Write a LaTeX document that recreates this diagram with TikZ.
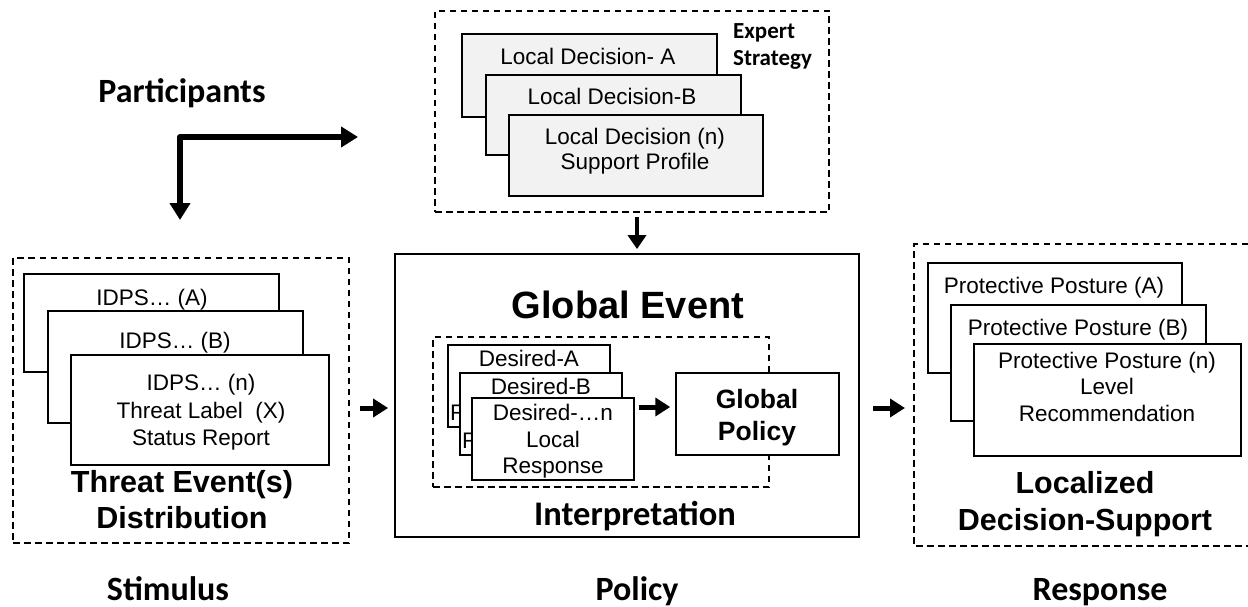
\documentclass[tikz,border=0pt]{standalone}
\usepackage{fontspec}
\setmainfont{Liberation Sans}
\newfontfamily\carl{Carlito}
\usetikzlibrary{arrows.meta}
\definecolor{boxgray}{RGB}{242,242,242}
\begin{document}
\begin{tikzpicture}[x=1pt,y=-1pt,
  box/.style={draw, line width=1.5pt, fill=white, inner sep=0pt},
  gbox/.style={box, fill=boxgray},
  dpat/.style={line width=1.3pt, dash pattern=on 6.5pt off 4.5pt},
  dbox/.style={draw, dpat, inner sep=0pt},
  txt/.style={inner sep=0pt, align=center, font=\fontsize{22.5}{26.5}\selectfont},
  big/.style={inner sep=0pt, align=center, font=\fontsize{30.5}{36}\selectfont\bfseries},
  lab/.style={inner sep=0pt, align=center, font=\carl\fontsize{34}{40}\selectfont\bfseries},
  arr/.style={line width=5pt, -{Triangle[length=15pt,width=18pt]}},
]
\useasboundingbox (0,0) rectangle (1248,607);

% ---------- Participants ----------
\node[lab, anchor=base] (part) at (182,103) {Participants};
\coordinate (pdown) at (180,220);
\coordinate (pright) at (358,137);
\draw[line width=6pt, line join=round, {Triangle[length=17pt,width=20pt]}-{Triangle[length=17pt,width=20pt]}] (pdown) |- (pright);

% ---------- Expert strategy ----------
\node[dbox, minimum width=394pt, minimum height=201pt] (topdash) at (632,111.5) {};
\node[gbox, minimum width=255pt, minimum height=83pt] (ldA) at (589.5,75.5) {};
\node[txt, anchor=base] (ldAt) at (588,65) {Local Decision- A};
\node[gbox, minimum width=255pt, minimum height=80pt] (ldB) at (613.5,115) {};
\node[txt, anchor=base] (ldBt) at (612,105) {Local Decision-B};
\node[gbox, minimum width=254pt, minimum height=81pt] (ldN) at (636,155.5) {};
\node[txt, font=\fontsize{22.5}{25}\selectfont] (ldNt) at (635,151.5) {Local Decision (n)\\Support Profile};
\node[inner sep=0pt, align=left, anchor=west, font=\carl\fontsize{23}{27}\selectfont\bfseries] (expert) at (733,46.5) {Expert\\Strategy};

% ---------- Global event ----------
\node[box, line width=1.8pt, minimum width=464pt, minimum height=283pt] (geb) at (627,395.5) {};
\node[inner sep=0pt, anchor=base, font=\fontsize{38}{44}\selectfont\bfseries] (get) at (628,318) {Global Event};
\node[dbox, minimum width=336pt, minimum height=150pt] (idash) at (601,412) {};
\node[box, minimum width=162pt, minimum height=82pt] (dsA) at (529,386) {};
\node[txt, anchor=base] (dsAt) at (529,366) {Desired-A};
\node[txt, anchor=west] (rA) at (450,413) {R};
\node[box, minimum width=162pt, minimum height=82pt] (dsB) at (541,414) {};
\node[txt, anchor=base] (dsBt) at (541,394) {Desired-B};
\node[txt, anchor=west] (rB) at (462,441) {R};
\node[box, minimum width=162pt, minimum height=82pt] (dsN) at (553,439) {};
\node[txt] (dsNt) at (553,441.5) {Desired-\dots n\\Local\\Response};
\node[box, minimum width=163pt, minimum height=82pt] (gp) at (757.5,414) {};
\node[inner sep=0pt, align=center, font=\fontsize{26.5}{32}\selectfont\bfseries] (gpt) at (757,417.5) {Global\\Policy};
\coordinate (a2) at (639,407);
\draw[arr] (a2) -- (a2 -| gp.west) [shorten >=5pt];
\node[lab, font=\carl\fontsize{34.5}{40}\selectfont\bfseries, anchor=base] (interp) at (635,525) {Interpretation};

\coordinate (d1) at (637,217);
\draw[line width=4pt, -{Triangle[length=14pt,width=18pt]}, shorten >=4pt] (d1) -- (d1 |- geb.north);

% ---------- Threat events ----------
\node[dbox, minimum width=336pt, minimum height=285pt] (ldash) at (181,400.5) {};
\node[box, minimum width=255pt, minimum height=98pt] (idA) at (151.5,323) {};
\node[txt, anchor=base] (idAt) at (152,305) {IDPS\dots\ (A)};
\node[box, minimum width=255pt, minimum height=112pt] (idB) at (175.5,367) {};
\node[txt, anchor=base] (idBt) at (175,348) {IDPS\dots\ (B)};
\node[box, minimum width=258pt, minimum height=110pt] (idN) at (200,410) {};
\node[txt, font=\fontsize{22.5}{27.5}\selectfont] (idNt) at (201,412.5) {IDPS\dots\ (n)\\Threat Label\ \ (X)\\Status Report};
\node[big] (tet) at (182,499.5) {Threat Event(s)\\Distribution};
\coordinate (a1) at (360,408);
\draw[arr, shorten >=6pt] (a1) -- (a1 -| geb.west);

% ---------- Localized decision support ----------
\draw[dpat] (1248,244) -- (914,244) -- (914,546) -- (1248,546);
\node[box, minimum width=254pt, minimum height=110pt] (ppA) at (1055,318) {};
\node[txt, anchor=base] (ppAt) at (1054,293) {Protective Posture (A)};
\node[box, minimum width=255pt, minimum height=116pt] (ppB) at (1078.5,363) {};
\node[txt, anchor=base] (ppBt) at (1078,335) {Protective Posture (B)};
\node[box, minimum width=267pt, minimum height=112pt] (ppN) at (1107.5,400) {};
\node[txt] (ppNt) at (1107,386.5) {Protective Posture (n)\\Level\\Recommendation};
\node[big, font=\fontsize{30.5}{37}\selectfont\bfseries] (lds) at (1085,504) {Localized\\Decision-Support};
\coordinate (a3) at (873,408);
\coordinate (a3e) at (905,408);
\draw[arr] (a3) -- (a3e);

% ---------- bottom labels ----------
\node[lab, anchor=base] (stim) at (168,600) {Stimulus};
\node[lab, anchor=base] (pol) at (637,600) {Policy};
\node[lab, anchor=base] (resp) at (1100,600) {Response};
\end{tikzpicture}
\end{document}
